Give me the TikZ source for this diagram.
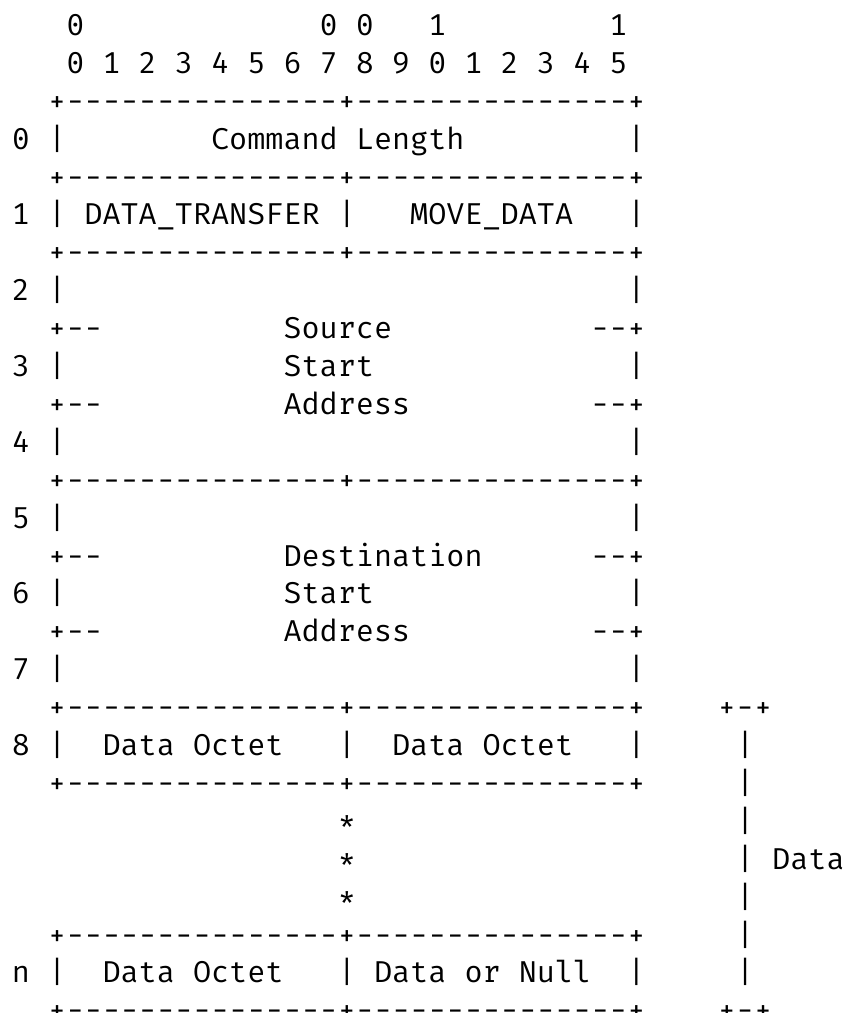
\documentclass[tikz,border=0pt]{standalone}
\usepackage{fontspec}
\setmonofont{Fira Mono}
\tikzset{ascii/.style={anchor=base west, inner sep=0pt, outer sep=0pt,
  font=\ttfamily\fontsize{30.17pt}{37.9pt}\selectfont}}
% \tx{column}{line}{text}
\newcommand\tx[3]{\node[ascii] (c#1r#2) at ({12+18.1*#1},{-35.4-37.9*(#2-1)}) {#3};}
\newcommand\hborder[1]{\tx{2}{#1}{+---------------+---------------+}}
\begin{document}
\begin{tikzpicture}[x=1pt,y=1pt]
\useasboundingbox (0,0) rectangle (848,-1013);
\tx{3}{1}{0}\tx{17}{1}{0 0}\tx{23}{1}{1}\tx{33}{1}{1}
\tx{3}{2}{0 1 2 3 4 5 6 7 8 9 0 1 2 3 4 5}
\hborder{3}
\tx{0}{4}{0}\tx{2}{4}{|}\tx{11}{4}{Command Length}\tx{34}{4}{|}
\hborder{5}
\tx{0}{6}{1}\tx{2}{6}{|}\tx{4}{6}{DATA\_TRANSFER}\tx{18}{6}{|}\tx{22}{6}{MOVE\_DATA}\tx{34}{6}{|}
\hborder{7}
\tx{0}{8}{2}\tx{2}{8}{|}\tx{34}{8}{|}
\tx{2}{9}{+--}\tx{15}{9}{Source}\tx{32}{9}{--+}
\tx{0}{10}{3}\tx{2}{10}{|}\tx{15}{10}{Start}\tx{34}{10}{|}
\tx{2}{11}{+--}\tx{15}{11}{Address}\tx{32}{11}{--+}
\tx{0}{12}{4}\tx{2}{12}{|}\tx{34}{12}{|}
\hborder{13}
\tx{0}{14}{5}\tx{2}{14}{|}\tx{34}{14}{|}
\tx{2}{15}{+--}\tx{15}{15}{Destination}\tx{32}{15}{--+}
\tx{0}{16}{6}\tx{2}{16}{|}\tx{15}{16}{Start}\tx{34}{16}{|}
\tx{2}{17}{+--}\tx{15}{17}{Address}\tx{32}{17}{--+}
\tx{0}{18}{7}\tx{2}{18}{|}\tx{34}{18}{|}
\hborder{19}\tx{39}{19}{+-+}
\tx{0}{20}{8}\tx{2}{20}{|}\tx{5}{20}{Data Octet}\tx{18}{20}{|}\tx{21}{20}{Data Octet}\tx{34}{20}{|}\tx{40}{20}{|}
\hborder{21}\tx{40}{21}{|}
\tx{18}{22}{*}\tx{40}{22}{|}
\tx{18}{23}{*}\tx{40}{23}{|}\tx{42}{23}{Data}
\tx{18}{24}{*}\tx{40}{24}{|}
\hborder{25}\tx{40}{25}{|}
\tx{0}{26}{n}\tx{2}{26}{|}\tx{5}{26}{Data Octet}\tx{18}{26}{|}\tx{20}{26}{Data or Null}\tx{34}{26}{|}\tx{40}{26}{|}
\hborder{27}\tx{39}{27}{+-+}
\end{tikzpicture}
\end{document}
